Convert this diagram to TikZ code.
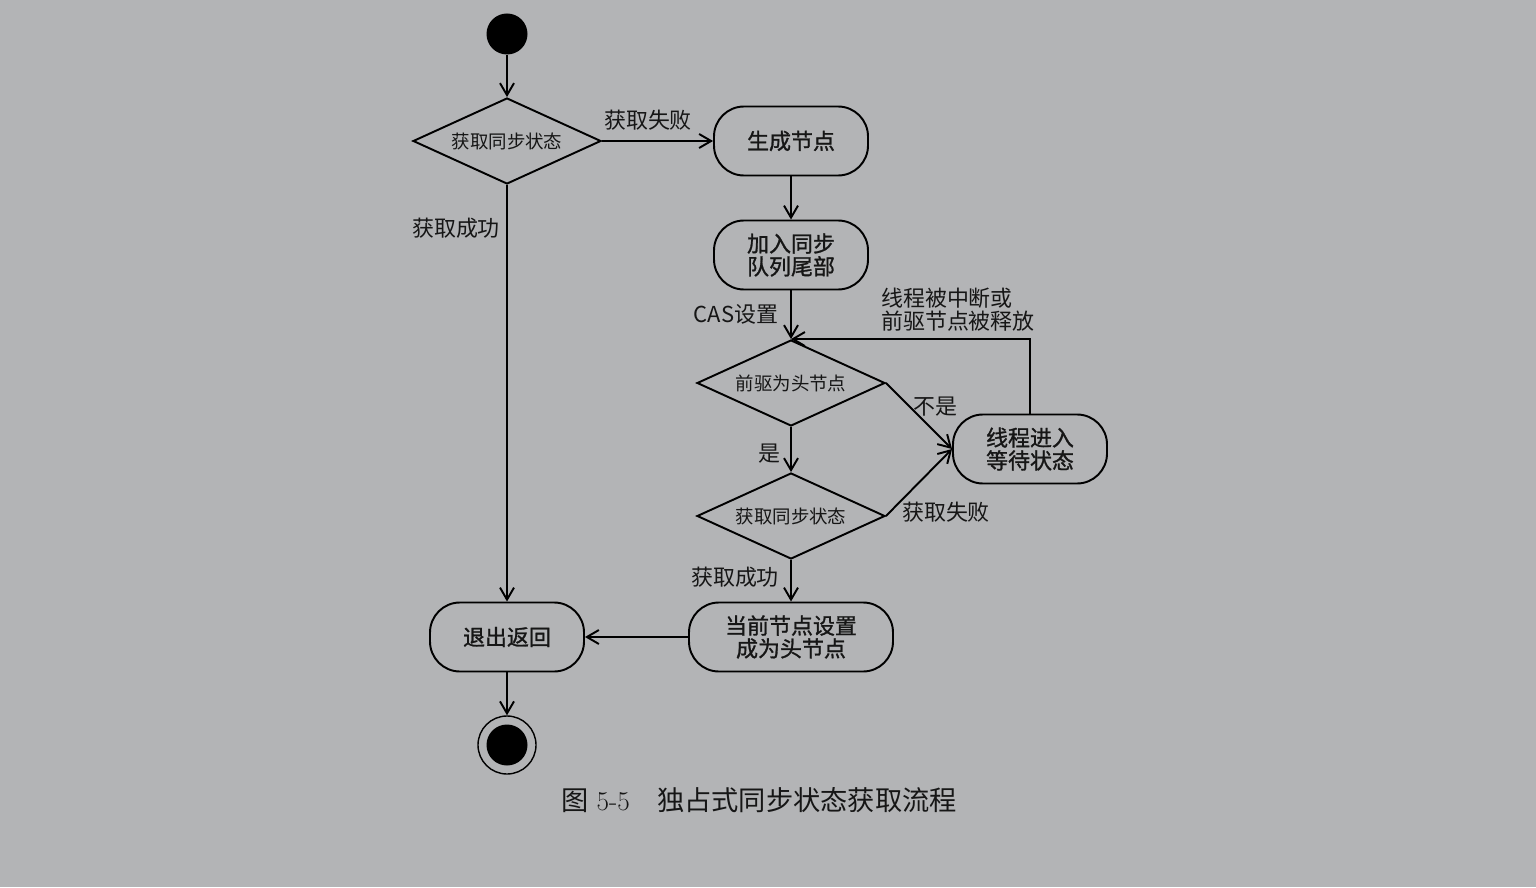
\documentclass[tikz,border=0pt]{standalone}
\usepackage{fontspec}
\newfontfamily\cjk{Noto Sans CJK SC}
\newfontfamily\cjkm[FakeBold=1.2]{Noto Sans CJK SC}
\usetikzlibrary{shapes.geometric}
\usetikzlibrary{arrows.meta}
\definecolor{bggray}{RGB}{179,180,182}
\definecolor{ink}{RGB}{22,22,22}
\tikzset{
  act/.style={draw, rounded corners=0.6cm, minimum width=3.08cm, minimum height=1.38cm,
    align=center, font=\cjkm\fontsize{12.5}{13}\selectfont, line width=1.1pt},
  choice/.style={draw, diamond, aspect=2.2, inner sep=0pt, minimum width=3.76cm,
    minimum height=1.72cm, font=\cjk\fontsize{10.5}{12}\selectfont, line width=1.1pt},
  lbl/.style={font=\cjk\fontsize{12.5}{13}\selectfont, align=left},
  flow/.style={-{Straight Barb[length=2.4mm,width=2.8mm]}, line width=1.1pt},
}
\begin{document}
\begin{tikzpicture}[every node/.style={text=ink}]
  \fill[bggray] (0,0) rectangle (30.72,17.74);
  \useasboundingbox (0,0) rectangle (30.72,17.74);
  \node[circle, fill=black, minimum size=0.82cm, inner sep=0pt] (start) at (10.14,17.06) {};
  \node[choice] (d1) at (10.14,14.92) {获取同步状态};
  \node[act] (gen) at (15.82,14.92) {生成节点};
  \node[act] (join) at (15.82,12.64) {加入同步\\队列尾部};
  \node[choice] (d2) at (15.82,10.08) {前驱为头节点};
  \node[act] (wait) at (20.60,8.76) {线程进入\\等待状态};
  \node[choice] (d3) at (15.82,7.42) {获取同步状态};
  \node[act, minimum width=4.08cm] (head) at (15.82,5.00) {当前节点设置\\成为头节点};
  \node[act] (exit) at (10.14,5.00) {退出返回};
  \node[circle, draw, line width=0.8pt, minimum size=1.16cm, inner sep=0pt] (end) at (10.14,2.84) {};
  \fill (end) circle (0.41cm);
  \node[lbl] (lfail1) at (12.96,15.34) {获取失败};
  \node[lbl] (lok1) at (9.12,13.18) {获取成功};
  \node[lbl] (lcas) at (14.72,11.46) {CAS设置};
  \node[lbl] (lback) at (19.16,11.54) {线程被中断或\\前驱节点被释放};
  \node[lbl] (lno) at (18.70,9.60) {不是};
  \node[lbl] (lyes) at (15.38,8.66) {是};
  \node[lbl] (lfail2) at (18.92,7.50) {获取失败};
  \node[lbl] (lok2) at (14.70,6.20) {获取成功};
  \node[font=\fontsize{15.5}{18}\selectfont] (cap) at (15.18,1.74) {{\cjk 图} 5-5\hspace{1em}{\cjk 独占式同步状态获取流程}};
  \draw[flow] (start) -- (d1);
  \draw[flow] (d1) -- (gen);
  \draw[flow] (gen) -- (join);
  \draw[flow] (join) -- (d2);
  \draw[flow] (d2.east) -- (wait.west);
  \draw[flow] (wait.north) |- (d2.north);
  \draw[flow] (d2) -- (d3);
  \draw[flow] (d3.east) -- (wait.west);
  \draw[flow] (d3) -- (head);
  \draw[flow] (head) -- (exit);
  \draw[flow] (d1) -- (exit);
  \draw[flow] (exit) -- (end);
\end{tikzpicture}
\end{document}
